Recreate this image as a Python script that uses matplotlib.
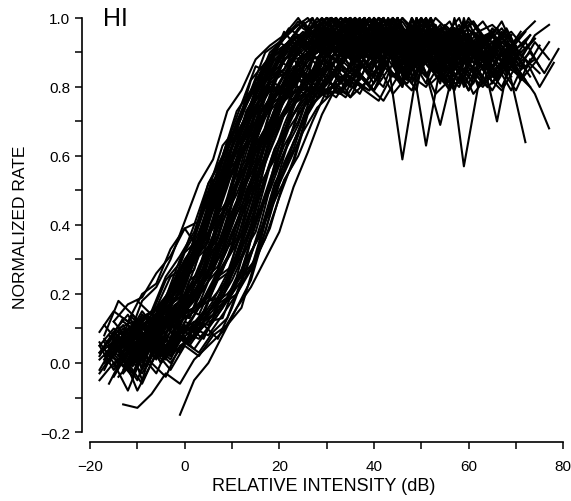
import numpy as np
import matplotlib
matplotlib.use("Agg")
import matplotlib.pyplot as plt
from matplotlib.ticker import MultipleLocator

# normalized rate (x100) per fiber, sampled every 3 dB from its start level
c01 = [2, 9, 5, 10, 8, 17, 22, 33, 40, 52, 60, 72, 79, 88, 91, 94, 97, 92, 95, 100, 94, 90, 96, 93, 98, 91, 95, 89, 93]
c02 = [6, 1, 8, 4, 13, 12, 24, 27, 41, 48, 63, 69, 82, 85, 93, 90, 96, 88, 94, 99, 91, 87, 95, 100, 92, 89, 96, 90]
c03 = [0, 7, 10, 6, 18, 19, 31, 37, 52, 58, 73, 78, 89, 92, 88, 95, 100, 93, 90, 97, 94, 85, 92, 98, 90, 94, 88, 93, 96]
c04 = [8, 3, 5, 11, 7, 16, 14, 23, 30, 37, 49, 62, 72, 79, 88, 90, 95, 91, 86, 93, 98, 95, 89, 84, 92, 100, 94, 97, 90]
c05 = [10, 12, 9, 17, 22, 30, 38, 51, 60, 70, 81, 86, 93, 95, 98, 92, 100, 96, 91, 94, 97, 90, 93, 88, 95, 92]
c06 = [-3, 2, 6, 1, 9, 12, 11, 17, 20, 28, 36, 48, 59, 73, 81, 85, 92, 89, 95, 90, 84, 93, 100, 96, 88, 91, 95, 87, 90, 94]
c07 = [4, 11, 8, 15, 20, 27, 41, 47, 63, 70, 77, 88, 90, 94, 97, 91, 87, 95, 100, 93, 96, 90, 85, 94, 89]
c08 = [5, -2, 4, 7, 3, 9, 6, 13, 16, 19, 27, 40, 52, 63, 70, 81, 86, 93, 90, 95, 92, 87, 96, 100, 91, 94, 89, 93, 97, 90, 86]
c09 = [1, 8, 11, 14, 16, 23, 28, 40, 49, 59, 72, 82, 85, 92, 94, 100, 95, 88, 93, 90, 97, 92, 86, 91, 95, 89]
c10 = [2, 6, 2, 10, 9, 14, 22, 31, 36, 51, 61, 68, 81, 88, 89, 94, 91, 97, 100, 93, 88, 92, 95, 90, 96, 84, 93, 91, 97, 89, 94]
c11 = [7, 5, 13, 16, 25, 28, 40, 52, 62, 69, 78, 89, 91, 95, 92, 97, 94, 100, 90, 93, 96, 87, 92]
c12 = [0, 4, -1, 8, 11, 10, 15, 24, 27, 38, 49, 62, 70, 82, 86, 90, 95, 88, 93, 100, 91, 86, 94, 97, 90, 93, 89, 96, 92]
c13 = [12, 9, 14, 19, 30, 37, 52, 60, 73, 79, 87, 93, 90, 96, 100, 94, 91, 97, 89, 95, 92, 98, 90, 87]
c14 = [6, 1, 7, 4, 12, 10, 17, 20, 25, 30, 39, 53, 60, 70, 79, 88, 90, 93, 96, 91, 100, 94, 88, 92, 95, 90, 83, 91, 96]
c15 = [-2, 5, 1, 4, 8, 2, 6, 9, 14, 24, 40, 55, 70, 78, 88, 91, 96, 93, 100, 95, 90, 94, 97, 92, 89, 95, 91, 86, 93]
c16 = [3, 7, 0, 5, 2, 8, 4, 10, 16, 25, 40, 58, 68, 80, 86, 93, 90, 95, 100, 92, 88, 94, 91, 97, 93, 87, 92, 95, 90, 96]
c17 = [-4, 1, 6, 3, 9, 5, 11, 7, 16, 27, 40, 56, 70, 77, 88, 92, 95, 89, 100, 93, 96, 90, 85, 93, 97, 91]
c18 = [2, -3, 4, 0, 6, 3, 9, 13, 24, 42, 57, 69, 79, 85, 93, 90, 96, 100, 91, 94, 88, 95, 92, 97, 86, 93, 90]
c19 = [9, 15, 12, 20, 23, 33, 39, 41, 53, 56, 68, 77, 79, 89, 93, 96, 100, 92, 95, 90, 97, 88, 94]
c20 = [12, 17, 19, 26, 31, 39, 33, 52, 64, 75, 86, 84, 91, 97, 100, 93, 96, 90, 95, 92, 98, 94, 89, 93]
c21 = [18, 14, 24, 29, 40, 52, 59, 70, 79, 90, 93, 97, 100, 95, 91, 94, 98, 90, 96, 92, 88, 95]
c22 = [4, 0, 9, 5, 12, 17, 19, 30, 37, 52, 59, 72, 79, 86, 93, 88, 96, 91, 85, 90, 87, 59, 84, 91, 95, 100, 89, 93, 87, 91]
c23 = [1, -5, 6, 3, 10, 9, 18, 19, 29, 40, 47, 63, 72, 78, 87, 93, 89, 95, 91, 100, 86, 92, 84, 88, 57, 80, 83, 90, 86, 93, 88]
c24 = [7, 3, 10, 14, 13, 22, 27, 41, 48, 60, 73, 79, 85, 92, 88, 95, 90, 100, 93, 87, 91, 96, 89, 84, 92, 88, 95, 86, 90, 84, 91]
c25 = [9, 7, 16, 20, 30, 35, 52, 61, 68, 82, 86, 91, 95, 89, 100, 93, 90, 96, 88, 92, 85, 94, 90, 87, 93, 81, 89, 84, 78, 68]
c26 = [3, 6, -2, 4, 7, 13, 19, 21, 33, 38, 51, 59, 73, 78, 88, 91, 95, 92, 97, 90, 100, 94, 89, 93, 87, 96, 91, 88, 94, 82, 64]
c27 = [5, 10, 4, 12, 15, 24, 27, 42, 50, 63, 68, 82, 86, 94, 90, 97, 93, 88, 95, 100, 91, 89, 96, 92, 87, 94, 90, 97, 93, 88, 95, 98]
c28 = [-1, 5, 9, 3, 17, 20, 31, 35, 47, 61, 70, 83, 85, 91, 96, 93, 87, 100, 94, 90, 95, 89, 92, 97, 91, 86, 94]
c29 = [6, 11, 4, 16, 23, 27, 37, 53, 58, 72, 80, 89, 93, 88, 94, 91, 97, 100, 92, 89, 95, 90, 93]
c30 = [-12, -13, -9, -3, -6, 1, 5, 9, 16, 22, 30, 38, 51, 61, 72, 80, 86, 90, 94, 89, 96, 100, 92, 88, 95, 91, 85, 93, 90]
c31 = [-15, -5, 0, 8, 16, 24, 38, 52, 64, 73, 84, 88, 93, 90, 97, 100, 94, 89, 92, 96, 90, 86]
c32 = [-6, 2, -8, 0, -4, 5, 8, 12, 13, 24, 27, 41, 50, 58, 72, 79, 88, 92, 90, 95, 100, 93, 87, 91, 96, 89, 94]
c33 = [-3, 3, 7, -5, 8, 12, 14, 22, 28, 39, 50, 63, 70, 78, 88, 93, 91, 97, 100, 90, 94, 88, 93, 96, 91, 87, 95, 90]
c34 = [8, 18, 14, 9, 11, 16, 13, 24, 28, 38, 47, 63, 68, 81, 89, 90, 94, 98, 91, 100, 95, 89, 92, 96, 90, 93, 87, 94, 91, 85]
c35 = [3, 8, 6, 12, 17, 19, 31, 37, 50, 62, 70, 81, 86, 92, 95, 89, 100, 94, 90, 96, 91, 88, 93, 97, 90, 94, 86]
c36 = [10, 5, 15, 24, 28, 41, 48, 63, 70, 79, 88, 92, 96, 90, 100, 93, 89, 95, 91, 97, 92, 86, 94, 90, 93]
c37 = [4, 9, 3, 14, 16, 20, 30, 40, 48, 63, 71, 78, 89, 93, 91, 96, 100, 94, 88, 92, 95, 90, 85, 93, 89, 96]
c38 = [1, 6, 2, 9, 11, 14, 22, 34, 50, 66, 77, 87, 91, 95, 89, 93, 100, 96, 90, 94, 87, 92, 95, 89, 93, 97]
c39 = [12, 7, 18, 22, 30, 41, 52, 59, 73, 79, 88, 92, 95, 100, 94, 90, 97, 93, 89, 96, 91, 94]
c40 = [0, 4, -3, 6, 2, 8, 10, 7, 16, 20, 29, 38, 52, 60, 71, 82, 86, 93, 89, 95, 91, 100, 94, 88, 92, 97, 90, 86, 93, 89, 95]
c41 = [5, 0, 8, 3, 11, 9, 16, 19, 24, 31, 38, 52, 61, 69, 81, 87, 92, 88, 95, 91, 100, 93, 84, 69, 86, 94, 88, 70, 91, 85, 92]
c42 = [2, 7, 11, 5, 14, 22, 26, 42, 47, 61, 73, 78, 86, 93, 90, 97, 100, 91, 94, 88, 95, 92, 89, 96, 90, 93, 87, 94, 91]
c43 = [3, 9, 6, 16, 19, 31, 37, 49, 63, 69, 82, 85, 92, 96, 90, 94, 100, 93, 88, 91, 97, 90, 95, 86]
c44 = [11, 4, 13, 22, 26, 37, 51, 58, 72, 81, 84, 92, 95, 91, 100, 94, 89, 93, 96, 90, 88, 63, 86, 93, 90, 95, 88, 92]
c45 = [6, 13, 10, 15, 25, 31, 38, 50, 63, 68, 82, 87, 90, 95, 92, 100, 96, 89, 93, 97, 91, 94, 88, 92, 95, 90]
c46 = [5, 10, 12, 18, 28, 37, 53, 60, 70, 82, 85, 93, 90, 96, 100, 92, 88, 95, 91, 94, 89, 97, 93, 90, 86, 92, 95]
c47 = [1, -4, 5, 2, 9, 6, 12, 15, 21, 30, 37, 49, 58, 67, 74, 78, 80, 84, 79, 88, 82, 100, 85, 81, 87, 78, 83, 90, 84, 80]
c48 = [2, 7, 0, 5, 9, 13, 19, 28, 40, 50, 62, 70, 76, 80, 78, 83, 87, 81, 90, 85, 79, 100, 88, 82, 86, 80, 84, 89, 83]
c49 = [2, 8, 1, 6, 10, 12, 18, 25, 30, 41, 52, 60, 72, 78, 80, 86, 82, 90, 84, 79, 88, 93, 83, 100, 87, 81, 92, 85, 80, 89]
c50 = [4, 10, 6, 14, 19, 23, 33, 39, 51, 64, 72, 80, 78, 85, 82, 90, 86, 80, 94, 100, 84, 88, 81, 93, 86, 79, 90, 84, 95]
c51 = [-2, 6, 9, 2, 16, 21, 27, 41, 49, 60, 74, 79, 88, 83, 97, 91, 86, 100, 82, 95, 89, 84, 98, 87, 92, 80, 90, 94, 85, 88]
c52 = [8, 15, 10, 22, 30, 36, 50, 63, 71, 82, 86, 96, 91, 100, 85, 93, 98, 88, 95, 83, 97, 90, 86, 94, 99, 89, 92]
c53 = [1, 5, 9, 2, 11, 7, 16, 22, 29, 40, 48, 61, 69, 77, 79, 84, 81, 88, 92, 85, 96, 100, 89, 83, 91, 86, 95, 88, 82, 90, 93, 86]
c54 = [3, -1, 6, 10, 4, 12, 15, 20, 27, 38, 51, 60, 74, 80, 79, 87, 83, 91, 97, 90, 100, 94, 85, 96, 91, 99, 88, 93, 84, 90]
c55 = [5, 9, 3, 12, 8, 18, 21, 30, 35, 50, 59, 71, 78, 86, 90, 96, 99, 92, 100, 95, 97, 91, 98, 94, 89, 96, 93, 99, 90]
c56 = [6, 12, 9, 19, 27, 35, 51, 58, 73, 80, 91, 96, 99, 94, 100, 97, 92, 98, 95, 99, 93, 97, 90, 96, 99, 92, 95]
c57 = [3, 8, 2, 10, 7, 15, 19, 31, 39, 54, 63, 75, 79, 81, 88, 84, 92, 100, 87, 82, 90, 85, 94, 80, 89, 86, 93, 83]
c58 = [7, 2, 11, 14, 9, 21, 30, 38, 52, 60, 71, 84, 90, 97, 94, 99, 100, 96, 92, 98, 95, 91, 97, 99, 93]
c59 = [-4, 3, 7, 1, 12, 15, 21, 27, 40, 49, 58, 70, 80, 85, 82, 93, 88, 84, 91, 100, 86, 81, 90, 95, 87, 83, 92, 86, 79, 88, 84]
c60 = [-1, 4, 0, 7, 3, 10, 8, 14, 20, 27, 38, 53, 62, 74, 78, 81, 77, 85, 90, 83, 88, 100, 92, 84, 89, 95, 86, 91, 82, 87, 93]
c61 = [14, 10, 20, 29, 38, 49, 63, 72, 80, 90, 94, 98, 95, 100, 97, 93, 99, 96, 91, 98, 94, 97, 92]
c62 = [6, 0, 3, 8, 13, 10, 19, 27, 36, 48, 62, 68, 81, 85, 94, 98, 95, 100, 97, 93, 99, 96, 94, 98, 92, 97, 95, 99, 93, 96, 91]
c63 = [0, 5, 9, 3, 14, 17, 27, 36, 47, 61, 67, 78, 82, 79, 86, 81, 90, 84, 93, 88, 82, 100, 85, 79, 91, 86, 83, 92, 88, 80, 87]
c64 = [4, 8, 1, 10, 13, 16, 20, 31, 36, 52, 59, 73, 77, 88, 92, 97, 94, 99, 96, 100, 98, 93, 97, 95, 99, 91, 96, 98, 94]
c65 = [3, 9, 4, 12, 6, 14, 20, 24, 37, 46, 60, 67, 76, 79, 83, 78, 86, 81, 89, 84, 80, 91, 85, 100, 82, 88, 79, 86, 90, 83]
c66 = [-2, 6, 11, 3, 8, 5, 15, 18, 26, 33, 47, 55, 68, 75, 80, 77, 84, 88, 82, 91, 86, 80, 100, 89, 83, 87, 81, 92, 85, 79, 88]
c67 = [8, 3, 12, 9, 15, 21, 29, 40, 53, 59, 71, 77, 84, 80, 89, 85, 93, 100, 88, 82, 90, 86, 94, 84, 91, 87]
c68 = [2, 8, -2, 5, 1, 9, 7, 12, 18, 24, 35, 45, 58, 67, 75, 79, 78, 85, 81, 89, 100, 87, 83, 92, 86, 81, 90, 84, 88, 82]
c69 = [10, 4, 7, 14, 11, 19, 30, 36, 49, 57, 70, 78, 81, 87, 83, 94, 89, 100, 86, 91, 84, 95, 88, 82, 90]
c70 = [6, 1, 12, 17, 22, 33, 38, 50, 62, 71, 80, 85, 82, 90, 87, 97, 100, 91, 85, 93, 88, 96, 89, 84, 92, 87, 95]
c71 = [5, -1, 8, 2, 11, 9, 17, 23, 31, 42, 50, 61, 72, 78, 82, 79, 88, 84, 92, 100, 86, 90, 83, 94, 87, 81, 91, 85]
c72 = [13, 9, 17, 24, 32, 44, 52, 63, 76, 82, 90, 93, 98, 95, 100, 92, 96, 90, 94, 97, 91]
c73 = [-5, 0, -8, 2, -3, 6, 10, 16, 24, 33, 45, 57, 66, 76, 85, 83, 90, 87, 95, 100, 91, 86, 93, 89, 96, 88, 92, 85, 90]
c74 = [11, 6, 14, 9, 17, 20, 28, 39, 47, 62, 72, 81, 88, 86, 93, 97, 91, 100, 95, 88, 92, 96, 90, 85, 93, 98, 91, 87]
c75 = [1, 5, 10, 7, 4, 13, 18, 26, 38, 47, 61, 71, 79, 85, 90, 94, 98, 100, 96, 92, 97, 93, 99, 95, 91, 98, 94, 96, 90, 95, 99]
c76 = [9, 14, 7, 16, 21, 32, 36, 48, 61, 73, 80, 88, 94, 99, 96, 100, 93, 98, 95, 97, 92, 99, 94, 96, 91]
c77 = [-1, 4, 8, 0, 11, 6, 14, 25, 28, 39, 52, 59, 71, 80, 86, 91, 97, 93, 99, 95, 100, 96, 92, 98, 94, 99, 93, 97, 91, 95]
c78 = [7, 2, 11, 6, 16, 23, 27, 38, 51, 60, 72, 79, 86, 82, 89, 84, 80, 92, 87, 100, 83, 90, 85, 79, 88, 93, 84, 89, 82]
c79 = [0, -6, 3, -2, 5, 2, 8, 11, 16, 30, 46, 60, 73, 79, 81, 86, 83, 91, 87, 100, 85, 92, 88, 83, 90, 86]
c80 = [8, 13, 11, 18, 30, 36, 49, 63, 69, 81, 88, 95, 92, 98, 100, 94, 97, 91, 99, 95, 90, 96, 93, 98, 94]
c81 = [3, 7, 1, 10, 13, 17, 22, 29, 38, 50, 61, 70, 76, 79, 77, 82, 78, 85, 80, 76, 83, 79, 88, 81, 100, 84, 80, 86]
c82 = [6, 11, 3, 13, 17, 23, 31, 42, 51, 62, 72, 78, 80, 76, 82, 79, 84, 77, 81, 86, 78, 83, 100, 85, 80, 88]
c83 = [2, 6, 0, 9, 12, 15, 19, 27, 36, 47, 60, 70, 75, 78, 80, 77, 83, 79, 76, 84, 81, 87, 78, 82, 100, 85, 79, 86, 83]
c84 = [5, 10, 7, 14, 11, 19, 28, 36, 49, 60, 69, 76, 81, 78, 84, 80, 77, 85, 82, 79, 86, 100, 83, 80, 87, 81]
c85 = [7, 2, 10, 15, 12, 21, 26, 39, 50, 58, 71, 77, 82, 79, 85, 81, 78, 87, 83, 91, 80, 100, 86, 82, 89, 84, 80]
c86 = [4, 0, 7, 3, 9, 12, 18, 26, 38, 52, 64, 72, 77, 80, 78, 83, 81, 79, 86, 82, 100, 88, 84, 80, 87, 83]
c87 = [1, 5, -1, 7, 3, 9, 6, 12, 17, 24, 33, 45, 57, 68, 74, 78, 80, 77, 83, 79, 85, 81, 88, 100, 84, 80, 89, 83, 79, 86]
c88 = [9, 14, 10, 21, 27, 38, 50, 60, 70, 77, 81, 79, 84, 80, 87, 82, 78, 86, 100, 83, 89, 81, 85]

curves = [c01, c02, c03, c04, c05, c06, c07, c08, c09, c10, c11, c12,
          c13, c14, c15, c16, c17, c18, c19, c20, c21, c22, c23, c24,
          c25, c26, c27, c28, c29, c30, c31, c32, c33, c34, c35, c36,
          c37, c38, c39, c40, c41, c42, c43, c44, c45, c46, c47, c48,
          c49, c50, c51, c52, c53, c54, c55, c56, c57, c58, c59, c60,
          c61, c62, c63, c64, c65, c66, c67, c68, c69, c70, c71, c72,
          c73, c74, c75, c76, c77, c78, c79, c80, c81, c82, c83, c84,
          c85, c86, c87, c88]
starts = [-18, -17, -16, -15, -14, -13, -12, -18, -17, -16, -15, -14,
          -13, -12, -18, -16, -14, -12, -18, -15, -10, -17, -13, -11,
          -10, -18, -16, -15, -14, -13, -1, -16, -18, -17, -12, -11,
          -10, -9, -15, -17, -15, -14, -13, -12, -16, -9, -14, -11,
          -17, -15, -13, -12, -18, -16, -14, -11, -10, -17, -15, -13,
          -9, -18, -12, -16, -18, -17, -16, -15, -14, -13, -12, -11,
          -18, -17, -16, -15, -14, -13, -12, -10, -15, -16, -13, -18,
          -14, -12, -17, -11]
step_db = 3.0


def main():
    plt.rcParams["font.family"] = ["Liberation Sans", "DejaVu Sans"]

    fig = plt.figure(figsize=(5.71, 5.02), dpi=100)
    ax = fig.add_axes([0.1436, 0.1175, 0.847, 0.8585])

    for s, c in zip(starts, curves):
        r = np.array(c) / 100.0
        x = s + step_db * np.arange(len(r))
        ax.plot(x, r, "-k", lw=1.5)

    ax.set_xlim(-21.7, 80.5)
    ax.set_ylim(-0.229, 1.02)

    for side in ["top", "right"]:
        ax.spines[side].set_visible(False)
    ax.spines["left"].set_bounds(-0.2, 1.0)
    ax.spines["bottom"].set_bounds(-20, 80)
    ax.spines["left"].set_linewidth(1.2)
    ax.spines["bottom"].set_linewidth(1.2)

    ax.xaxis.set_major_locator(MultipleLocator(20))
    ax.xaxis.set_minor_locator(MultipleLocator(10))
    ax.yaxis.set_major_locator(MultipleLocator(0.2))
    ax.yaxis.set_minor_locator(MultipleLocator(0.1))
    ax.tick_params(which="both", direction="out", width=1.1, labelsize=11)
    ax.tick_params(which="major", length=5)
    ax.tick_params(which="minor", length=5)
    ax.tick_params(axis="x", pad=7)
    ax.yaxis.set_major_formatter(plt.FuncFormatter(lambda v, p: ("%.1f" % v).replace("-", "\u2212")))

    ax.set_xlabel("RELATIVE INTENSITY (dB)", fontsize=13, labelpad=3)
    ax.set_ylabel("NORMALIZED RATE", fontsize=12.5, labelpad=9)

    ax.text(-17.2, 1.0, "HI", fontsize=18, fontweight="light", va="center", ha="left")

    fig.savefig("out.png", dpi=100)


if __name__ == "__main__":
    main()
